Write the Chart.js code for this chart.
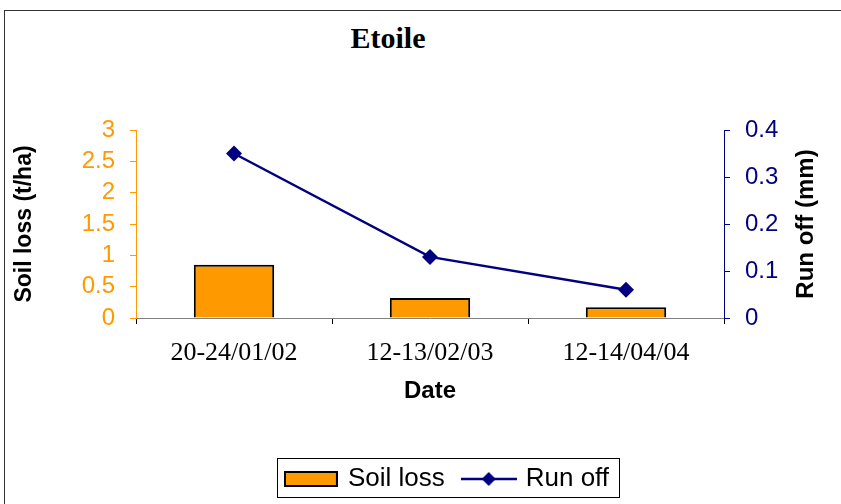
<!DOCTYPE html>
<html lang="en">
<head>
    <meta charset="UTF-8">
    <title>Etoile</title>
    <style>
        body {
            margin: 0;
            overflow: hidden;
            background: #fff;
            font-family: "Liberation Sans", Arial, sans-serif;
        }

        /* outer frame of the figure, runs off the right and bottom edge */
        .frame {
            position: absolute;
            left: 4px;
            top: 10px;
            width: 900px;
            height: 520px;
            border: 1px solid #333;
        }

        .title {
            position: absolute;
            left: 288px;
            width: 200px;
            top: 21px;
            text-align: center;
            font-family: "Liberation Serif", "Times New Roman", serif;
            font-weight: bold;
            font-size: 30px;
            color: #000;
        }

        #chartBox {
            position: absolute;
            left: 0;
            top: 0;
        }
    </style>
    <script src="https://cdn.jsdelivr.net/npm/chart.js"></script>
</head>
<body>
    <div class="frame"></div>
    <div class="title">Etoile</div>
    <canvas id="chartBox" width="896" height="504"></canvas>

    <script>
        // sampling dates and measured values
        var dates = ['20-24/01/02', '12-13/02/03', '12-14/04/04'];
        var soilLoss = [0.85, 0.32, 0.17];   // t/ha
        var runOff = [0.35, 0.13, 0.06];     // mm

        var soilLossTicks = [0, 0.5, 1, 1.5, 2, 2.5, 3];
        var runOffTicks = [0, 0.1, 0.2, 0.3, 0.4];

        var ORANGE = '#FF9900';
        var NAVY = '#000080';
        var SANS = '"Liberation Sans", Arial, sans-serif';
        var SERIF = '"Liberation Serif", "Times New Roman", serif';

        function plainNumber(value) {
            return String(+Number(value).toFixed(2));
        }

        // little swatches for the legend
        function barSwatch() {
            var c = document.createElement('canvas');
            c.width = 54; c.height = 16;
            var g = c.getContext('2d');
            g.fillStyle = ORANGE;
            g.fillRect(1, 1, 52, 14);
            g.strokeStyle = '#000';
            g.lineWidth = 2;
            g.strokeRect(1, 1, 52, 14);
            return c;
        }

        function lineSwatch() {
            var c = document.createElement('canvas');
            c.width = 56; c.height = 16;
            var g = c.getContext('2d');
            g.strokeStyle = NAVY;
            g.lineWidth = 2.5;
            g.beginPath();
            g.moveTo(0, 8); g.lineTo(56, 8);
            g.stroke();
            g.fillStyle = NAVY;
            g.beginPath();
            g.moveTo(28, 1); g.lineTo(35, 8); g.lineTo(28, 15); g.lineTo(21, 8);
            g.closePath();
            g.fill();
            return c;
        }

        var swatches = [barSwatch(), lineSwatch()];

        // box around the legend + right axis title reading bottom to top
        var extras = {
            id: 'extras',
            afterDraw: function(chart) {
                var ctx = chart.ctx;
                var hb = chart.legend.legendHitBoxes;
                if (hb && hb.length) {
                    var first = hb[0], last = hb[hb.length - 1];
                    var x0 = first.left - 10;
                    var x1 = last.left + last.width + 10;
                    ctx.save();
                    ctx.strokeStyle = '#000';
                    ctx.lineWidth = 1;
                    ctx.strokeRect(Math.round(x0) + 0.5, Math.round(first.top - 8) + 0.5,
                                   Math.round(x1 - x0), 39);
                    ctx.restore();
                }

                var area = chart.chartArea;
                ctx.save();
                ctx.translate(806, (area.top + area.bottom) / 2);
                ctx.rotate(-Math.PI / 2);
                ctx.font = 'bold 24px ' + SANS;
                ctx.fillStyle = '#000';
                ctx.textAlign = 'center';
                ctx.textBaseline = 'middle';
                ctx.fillText('Run off (mm)', 0, 0);
                ctx.restore();
            }
        };

        var ctx = document.getElementById('chartBox').getContext('2d');

        var chart = new Chart(ctx, {
            type: 'bar',
            data: {
                labels: dates,
                datasets: [{
                    type: 'bar',
                    label: 'Soil loss',
                    data: soilLoss,
                    yAxisID: 'y',
                    backgroundColor: ORANGE,
                    borderColor: '#000',
                    borderWidth: 2,
                    categoryPercentage: 1.0,
                    barPercentage: 0.41,
                    order: 2
                }, {
                    type: 'line',
                    label: 'Run off',
                    data: runOff,
                    yAxisID: 'y1',
                    borderColor: NAVY,
                    backgroundColor: NAVY,
                    borderWidth: 2.5,
                    pointStyle: 'rectRot',
                    pointRadius: 8,
                    pointBorderWidth: 0,
                    tension: 0,
                    order: 1
                }]
            },
            options: {
                responsive: false,
                animation: false,
                layout: {
                    padding: { left: 0, right: 0, top: 130, bottom: 2 }
                },
                plugins: {
                    tooltip: { enabled: false },
                    legend: {
                        position: 'bottom',
                        labels: {
                            usePointStyle: true,
                            pointStyleWidth: 48,
                            boxHeight: 26,
                            padding: 20,
                            color: '#000',
                            font: { family: SANS, size: 26 },
                            generateLabels: function(chart) {
                                return chart.data.datasets.map(function(ds, i) {
                                    return {
                                        text: ds.label,
                                        pointStyle: swatches[i],
                                        fillStyle: ds.backgroundColor,
                                        strokeStyle: ds.borderColor,
                                        lineWidth: 0,
                                        hidden: false,
                                        datasetIndex: i,
                                        fontColor: '#000'
                                    };
                                });
                            }
                        }
                    }
                },
                scales: {
                    x: {
                        afterFit: function(scale) { scale.height = 128; },
                        border: { color: '#808080', width: 1 },
                        grid: {
                            offset: true,
                            drawOnChartArea: false,
                            color: '#000',
                            tickLength: 6
                        },
                        ticks: {
                            color: '#000',
                            padding: 14,
                            maxRotation: 0,
                            autoSkip: false,
                            font: { family: SERIF, size: 26 }
                        },
                        title: {
                            display: true,
                            text: 'Date',
                            color: '#000',
                            font: { family: SANS, size: 24, weight: 'bold' },
                            padding: { top: 0, bottom: 40 }
                        }
                    },
                    y: {
                        position: 'left',
                        min: 0,
                        max: 3,
                        afterFit: function(scale) { scale.width = 136; },
                        afterBuildTicks: function(scale) {
                            scale.ticks = soilLossTicks.map(function(v) { return { value: v }; });
                        },
                        border: { color: ORANGE, width: 1 },
                        grid: {
                            drawOnChartArea: false,
                            color: ORANGE,
                            tickLength: 6
                        },
                        ticks: {
                            color: ORANGE,
                            padding: 15,
                            autoSkip: false,
                            callback: plainNumber,
                            font: { family: SANS, size: 24 }
                        },
                        title: {
                            display: true,
                            text: 'Soil loss (t/ha)',
                            color: '#000',
                            font: { family: SANS, size: 23, weight: 'bold' },
                            padding: { top: 11, bottom: 0 }
                        }
                    },
                    y1: {
                        position: 'right',
                        min: 0,
                        max: 0.4,
                        afterFit: function(scale) { scale.width = 172; },
                        afterBuildTicks: function(scale) {
                            scale.ticks = runOffTicks.map(function(v) { return { value: v }; });
                        },
                        border: { color: NAVY, width: 1 },
                        grid: {
                            drawOnChartArea: false,
                            color: NAVY,
                            tickLength: 6
                        },
                        ticks: {
                            color: NAVY,
                            padding: 15,
                            autoSkip: false,
                            callback: plainNumber,
                            font: { family: SANS, size: 24 }
                        }
                    }
                }
            },
            plugins: [extras]
        });
    </script>
</body>
</html>
